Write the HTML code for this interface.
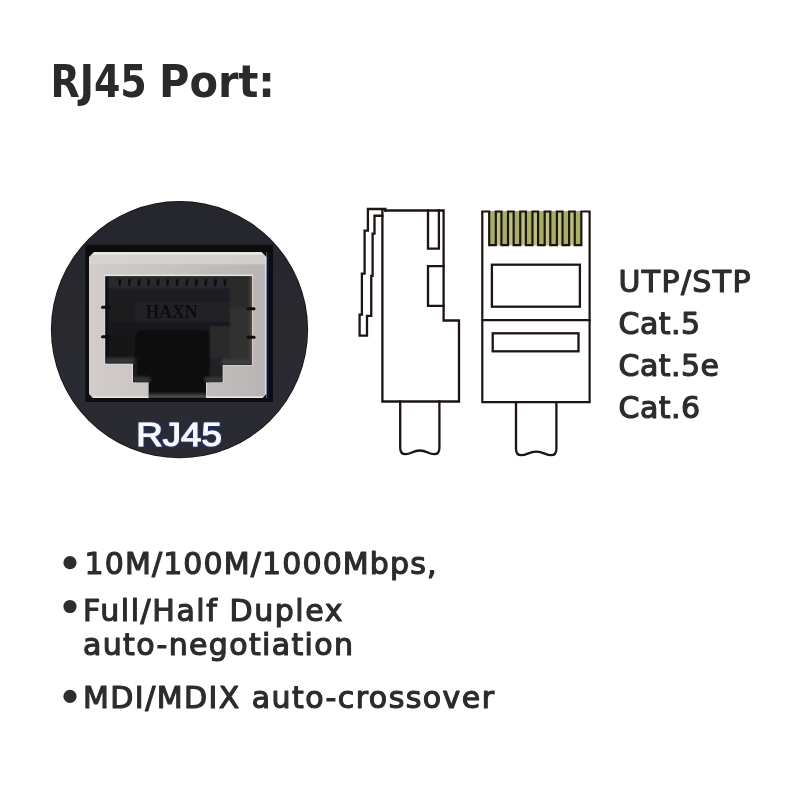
<!DOCTYPE html>
<html lang="en">
<head>
<meta charset="utf-8">
<title>RJ45 Port</title>
<style>
  html, body { margin: 0; padding: 0; background: #ffffff; }
  body { width: 800px; height: 800px; overflow: hidden; position: relative; }
  svg { position: absolute; left: 0; top: 0; display: block; }
  .t  { font-family: "DejaVu Sans", "Liberation Sans", sans-serif; fill: #2d2d2d; filter: url(#tsoft); }
  .h1 { font-family: "DejaVu Sans Condensed", "DejaVu Sans", "Liberation Sans", sans-serif; font-weight: 700; font-size: 44px; fill: #292929; }
  .sb { font-size: 30px; stroke: #2d2d2d; stroke-width: 1.2px; stroke-linejoin: round; }
  .ln { fill: none; stroke: #1d1513; stroke-width: 2.3; stroke-linejoin: miter; stroke-linecap: square; }
</style>
</head>
<body>
<svg width="800" height="800" viewBox="0 0 800 800">
  <defs>
    <clipPath id="circ"><circle cx="179.5" cy="329.7" r="127.8"/></clipPath>
    <filter id="soft" x="-5%" y="-5%" width="110%" height="110%"><feGaussianBlur stdDeviation="0.6"/></filter>
    <filter id="tsoft" x="-2%" y="-20%" width="104%" height="140%"><feGaussianBlur stdDeviation="0.35"/></filter>
    <filter id="soft3" x="-5%" y="-5%" width="110%" height="110%"><feGaussianBlur stdDeviation="1.1"/></filter>
    <filter id="glow" x="-10%" y="-20%" width="120%" height="140%">
      <feMorphology in="SourceAlpha" operator="dilate" radius="0.9" result="d"/>
      <feGaussianBlur in="d" stdDeviation="0.7" result="b"/>
      <feFlood flood-color="#1d3a9a" flood-opacity="0.55"/>
      <feComposite in2="b" operator="in" result="g"/>
      <feGaussianBlur in="SourceGraphic" stdDeviation="0.45" result="t"/>
      <feMerge><feMergeNode in="g"/><feMergeNode in="t"/></feMerge>
    </filter>
    <linearGradient id="panel" x1="0" y1="0" x2="0" y2="1">
      <stop offset="0" stop-color="#27272c"/>
      <stop offset="1" stop-color="#2b2b32"/>
    </linearGradient>
    <linearGradient id="shield" x1="0" y1="0" x2="1" y2="0">
      <stop offset="0" stop-color="#d2cdca"/>
      <stop offset="0.5" stop-color="#c6c1bf"/>
      <stop offset="1" stop-color="#b9b5b4"/>
    </linearGradient>
  </defs>

  <!-- title -->
  <text class="t h1" y="97.1"><tspan x="50.5" textLength="96.3" lengthAdjust="spacingAndGlyphs">RJ45</tspan> <tspan x="159" textLength="116" lengthAdjust="spacingAndGlyphs">Port:</tspan></text>

  <!-- photo circle -->
  <g id="photo">
    <circle cx="179.5" cy="329.7" r="128.6" fill="#111114"/>
    <g clip-path="url(#circ)">
     <g filter="url(#soft)">
      <rect x="40" y="190" width="280" height="280" fill="url(#panel)"/>
      <!-- panel cut-out -->
      <rect x="85.5" y="244.8" width="187.5" height="157" fill="#09090b"/>
      <!-- metal shield -->
      <rect x="89" y="252" width="177.5" height="146" fill="url(#shield)"/>
      <rect x="89" y="252.3" width="177.5" height="12" fill="#d9d5d3" opacity="0.75"/>
      <rect x="89" y="252.3" width="177.5" height="2.2" fill="#ece9e7"/>
      <rect x="266.4" y="253" width="2.6" height="146" fill="#0f1638"/>
      <rect x="265" y="254" width="1.5" height="144" fill="#d9dcec"/>
      <rect x="89" y="396.4" width="177.5" height="1.6" fill="#e6e6ee"/>
      <path d="M89 252 h5 l-5 5 z" fill="#15110f"/><path d="M266.5 252 h-5 l5 5 z" fill="#15110f"/>
      <path d="M89 398 h4 l-4 -4 z" fill="#15110f"/><path d="M266.5 398 h-4 l4 -4 z" fill="#15110f"/>
      <!-- opening -->
      <path d="M104.5 274.6 H252.6 V365.6 H223.3 V383 H206.8 V398 H148 V383 H132.2 V364.3 H104.5 Z" fill="#e6e1df"/>
      <path id="open" d="M105.3 276.2 H251.75 V365 H222.5 V382.25 H206 V398 H148.75 V382.25 H133 V363.5 H105.3 Z" fill="#171719"/>
      <clipPath id="oc"><path d="M105.3 276.2 H251.75 V365 H222.5 V382.25 H206 V398 H148.75 V382.25 H133 V363.5 H105.3 Z"/></clipPath>
      <g clip-path="url(#oc)">
       <g filter="url(#soft3)">
        <rect x="105" y="276" width="147" height="12.5" fill="#2a2a2d"/>
        <rect x="105" y="288.5" width="147" height="13.5" fill="#1f1f22"/>
                <rect x="105" y="302" width="147" height="20" fill="#222225"/>
        <rect x="105" y="302" width="30" height="20" fill="#1b1b1e"/>
        <rect x="105" y="322" width="147" height="14" fill="#19191b"/>
        <rect x="105" y="336" width="30" height="28" fill="#141416"/>
        <path d="M135 336 L140 330 H206 L211 336 V398 H135 Z" fill="#0c0c0e"/>
        <rect x="210" y="326" width="42" height="32" fill="#2b2a2c"/>
        <rect x="210" y="358" width="13" height="20" fill="#242426"/>
        <rect x="133" y="358" width="4" height="20" fill="#1d1d1f"/>
        <rect x="230" y="276" width="22" height="32" fill="#2a292a"/>
        <rect x="230" y="308" width="22" height="50" fill="#323131"/>
        <rect x="105" y="276" width="3.5" height="88" fill="#0d0d14"/>
        <rect x="250.300" y="276" width="1.5" height="89" fill="#7a4a38"/>
        <!-- step floors -->
        <rect x="105" y="358" width="29" height="5.5" fill="#353537"/>
        <rect x="133" y="377" width="17" height="5.5" fill="#303032"/>
        <rect x="222" y="358.5" width="30" height="6.500" fill="#3d3d3f"/>
        <rect x="205" y="377" width="18" height="5.500" fill="#343436"/>
        <rect x="148" y="393" width="59" height="2.500" fill="#2a2a2c"/>
        <rect x="148" y="395.5" width="59" height="2.500" fill="#58585b"/>
       </g>
        <g fill="#0c0c0e" opacity="0.9"><path d="M118.5 279.3 h3.2 l-1 6.6 h-2.1 z"/><path d="M128.1 279.3 h3.2 l-1 6.6 h-2.1 z"/><path d="M137.6 279.3 h3.2 l-1 6.6 h-2.1 z"/><path d="M147.2 279.3 h3.2 l-1 6.6 h-2.1 z"/><path d="M156.7 279.3 h3.2 l-1 6.6 h-2.1 z"/><path d="M166.2 279.3 h3.2 l-1 6.6 h-2.1 z"/><path d="M175.8 279.3 h3.2 l-1 6.6 h-2.1 z"/><path d="M185.4 279.3 h3.2 l-1 6.6 h-2.1 z"/><path d="M194.9 279.3 h3.2 l-1 6.6 h-2.1 z"/><path d="M204.4 279.3 h3.2 l-1 6.6 h-2.1 z"/><path d="M214.0 279.3 h3.2 l-1 6.6 h-2.1 z"/><path d="M223.6 279.3 h3.2 l-1 6.6 h-2.1 z"/></g>
        <text x="145.5" y="318" textLength="52" lengthAdjust="spacingAndGlyphs" font-family="'Liberation Serif', 'DejaVu Serif', serif" font-weight="700" font-size="18" fill="#0c0c0e">HAXN</text>
      </g>
      <!-- spring clips -->
      <g stroke="#0a0a0c" stroke-width="3" stroke-linecap="round">
        <path d="M102.5 307.3 H109"/><path d="M102.5 336.8 H109"/>
        <path d="M248 308.7 H254"/><path d="M248 337.2 H254"/>
      </g>
     </g>
    </g>
    <text x="136.2" y="446" textLength="85.6" lengthAdjust="spacingAndGlyphs" font-family="'Liberation Sans', sans-serif" font-weight="400" font-size="32.3" fill="#f8f9ff" stroke="#f8f9ff" stroke-width="1.1" stroke-linejoin="round" filter="url(#glow)">RJ45</text>
  </g>

  <!-- connector, side view -->
  <g class="ln">
    <path d="M382.4 209.3 V401.5 H459 V320.5 H443.6 V210.5 H385.4"/>
    <path d="M385.4 210.5 V209 H367.9 V230.6 H364.6 V273.6 H361.9 V314.7 H359.6 V335.7 H367 V315.8 H371.25 V275.9 H372.6 V233.7 H374.5 V215.75 H382.4"/>
    <path d="M428 210.5 V248.6 H438.9 V210.5"/>
    <path d="M443.6 266.1 H428 V305.9 H443.6"/>
    <path d="M400.2 401.5 V448 Q400.2 454.2 405.6 454.2 C411 454.2 413 450.5 419.8 450.5 C426.6 450.5 428.6 454.2 434 454.2 Q439.4 454.2 439.4 448 V401.5"/>
  </g>

  <!-- connector, front view -->
  <g>
    <rect x="489" y="211" width="92" height="34.5" fill="#bac081"/>
    <g fill="#a9ae67"><rect x="489.20" y="211" width="6.6" height="34.2"/><rect x="501.42" y="211" width="6.6" height="34.2"/><rect x="513.64" y="211" width="6.6" height="34.2"/><rect x="525.86" y="211" width="6.6" height="34.2"/><rect x="538.08" y="211" width="6.6" height="34.2"/><rect x="550.30" y="211" width="6.6" height="34.2"/><rect x="562.52" y="211" width="6.6" height="34.2"/><rect x="574.74" y="211" width="6.6" height="34.2"/></g>
    <g class="ln">
      <path stroke-width="2.2" d="M482.3 402.2 V211.5 H489.20 V245.2 H495.80 V211.5 H501.42 V245.2 H508.02 V211.5 H513.64 V245.2 H520.24 V211.5 H525.86 V245.2 H532.46 V211.5 H538.08 V245.2 H544.68 V211.5 H550.30 V245.2 H556.90 V211.5 H562.52 V245.2 H569.12 V211.5 H574.74 V245.2 H581.34 V211.5 H589.6 V402.2 Z"/>
      <rect x="491.9" y="264.7" width="88" height="42"/>
      <path d="M482.3 320.1 H589.6"/>
      <rect x="492.7" y="333.3" width="85.8" height="18"/>
      <path d="M516 402.2 V449 Q516 455.2 521.4 455.2 C526.8 455.2 529 451.6 536.2 451.6 C543.4 451.6 545.6 455.2 551 455.2 Q556.4 455.2 556.4 449 V402.2"/>
    </g>
  </g>

  <!-- cable types -->
  <text class="t sb" x="618.5" y="292.3" textLength="132" lengthAdjust="spacing">UTP/STP</text>
  <text class="t sb" x="618.5" y="333.9" textLength="81.5" lengthAdjust="spacing">Cat.5</text>
  <text class="t sb" x="618.5" y="376" textLength="100.5" lengthAdjust="spacing">Cat.5e</text>
  <text class="t sb" x="618.5" y="418.3" textLength="81.5" lengthAdjust="spacing">Cat.6</text>

  <!-- bullets -->
  <circle cx="70" cy="562.7" r="6.6" fill="#2d2d2d"/>
  <text class="t sb" x="84.5" y="573.6" textLength="352" lengthAdjust="spacing">10M/100M/1000Mbps,</text>
  <circle cx="70" cy="606.5" r="6.6" fill="#2d2d2d"/>
  <text class="t sb" x="83" y="620.8" textLength="259.5" lengthAdjust="spacing">Full/Half Duplex</text>
  <text class="t sb" x="83" y="654.5" textLength="270" lengthAdjust="spacing">auto-negotiation</text>
  <circle cx="70" cy="696.4" r="6.6" fill="#2d2d2d"/>
  <text class="t sb" x="83" y="708.4" textLength="411" lengthAdjust="spacing">MDI/MDIX auto-crossover</text>
</svg>
</body>
</html>
